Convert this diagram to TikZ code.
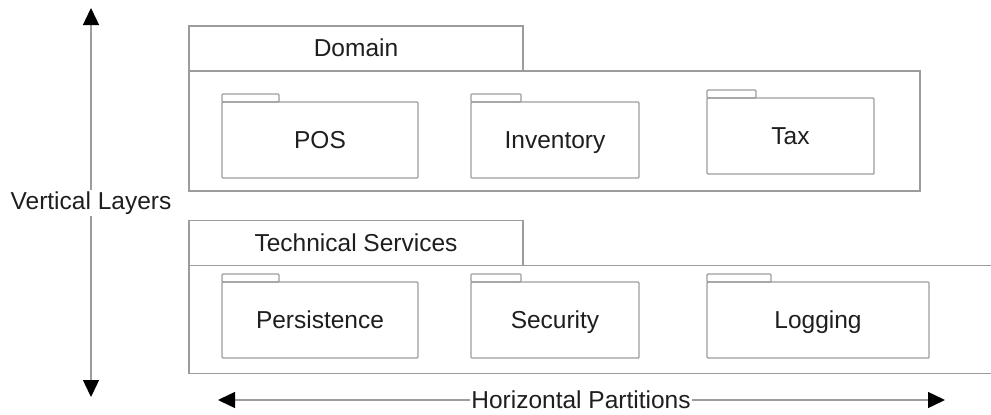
\documentclass[tikz,border=0pt]{standalone}
\usepackage{fontspec}
\setmainfont{Liberation Sans}
\usetikzlibrary{arrows.meta, positioning}
\definecolor{lineGray}{HTML}{9C9C9C}
\definecolor{textDark}{HTML}{1E1E1E}

\begin{document}
\begin{tikzpicture}[
		x=1pt, y=-1pt,
		font=\fontsize{24.5}{28}\selectfont,
		text=textDark,
		boxLine/.style={draw=lineGray, line width=1.4pt},
		tabBox/.style={rectangle, boxLine, minimum width=334pt, minimum height=45pt, inner sep=0pt, outer sep=0pt, text height=18pt, text depth=2pt},
		folderBox/.style={rectangle, boxLine, rounded corners=1pt, minimum height=76pt, inner sep=0pt, outer sep=0pt, text height=18pt, text depth=2pt},
		axisLabel/.style={inner sep=1.5pt},
		axisArrow/.style={-{Triangle[length=17pt, width=16pt, black]}, draw=lineGray, line width=1.4pt}
		]
		\useasboundingbox (0,0) rectangle (991,415);

		% Capas
		\node[tabBox] (domTab) at (356,48.5) {Domain};
		\node[rectangle, boxLine, anchor=north west, minimum width=731pt, minimum height=120pt, inner sep=0pt, outer sep=0pt] (domBody) at (domTab.south west) {};
		\node[tabBox] (tsTab) at (356,243) {Technical Services};
		\draw[boxLine] (tsTab.south west) ++(810,0) -- (tsTab.south west) -- ++(0,108) -- ++(810,0);

		% Paquetes
		\node[folderBox, minimum width=196pt, anchor=north west] (pos) at (222,102) {POS};
		\node[folderBox, minimum width=168pt, right=53pt of pos] (inv) {Inventory};
		\node[folderBox, minimum width=167pt, right=68pt of inv, yshift=4pt] (tax) {Tax};
		\node[folderBox, minimum width=196pt, below=104pt of pos] (pers) {Persistence};
		\node[folderBox, minimum width=168pt, below=104pt of inv] (sec) {Security};
		\node[folderBox, minimum width=222pt, right=68pt of sec] (logg) {Logging};
		\foreach \f/\w in {pos/57, inv/50, tax/49, pers/57, sec/50, logg/64}
			\draw[boxLine, rounded corners=1pt] (\f.north west) rectangle ++(\w,-8);

		% Ejes
		\node[axisLabel] (vLabel) at (91,203) {Vertical Layers};
		\coordinate (vTop) at (91,8);
		\coordinate (vBot) at (91,397);
		\node[axisLabel] (hLabel) at (581,400) {Horizontal Partitions};
		\coordinate (hLeft) at (218,400);
		\coordinate (hRight) at (945,400);

		% Flechas
		\draw[axisArrow] (vLabel.north) -- (vTop);
		\draw[axisArrow] (vLabel.south) -- (vBot);
		\draw[axisArrow] (hLabel.west) -- (hLeft);
		\draw[axisArrow] (hLabel.east) -- (hRight);

	\end{tikzpicture}
\end{document}
